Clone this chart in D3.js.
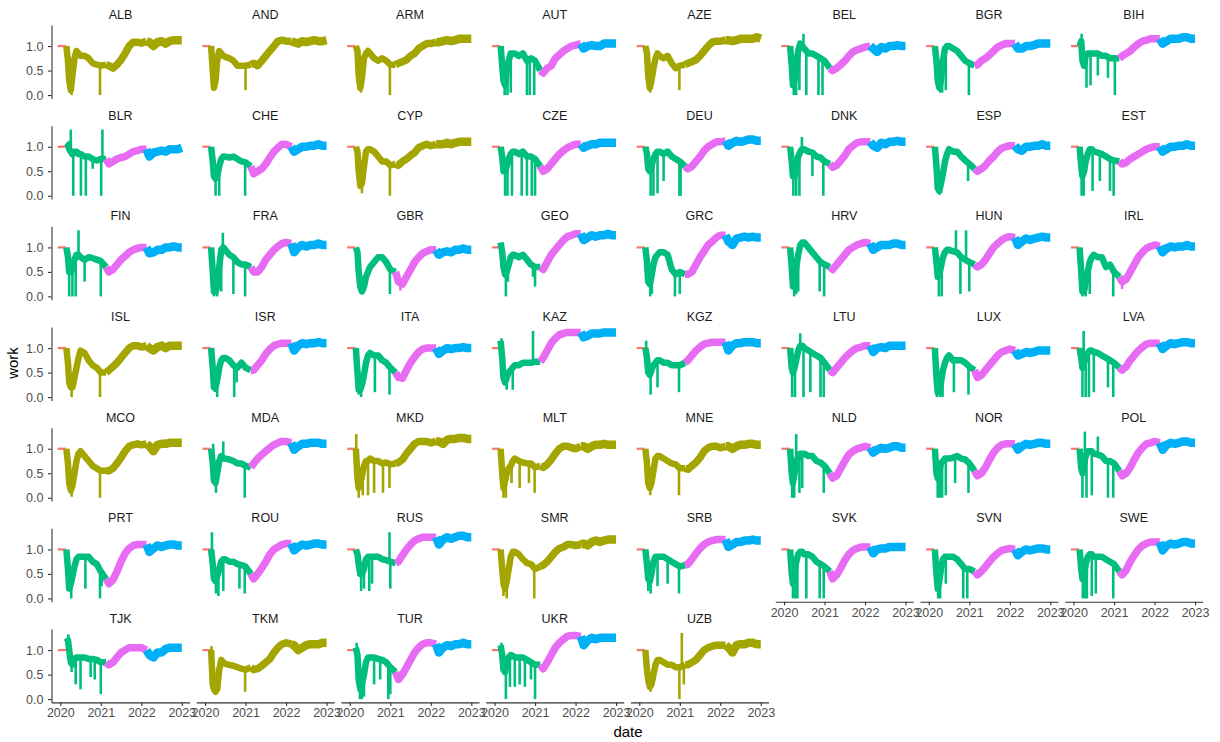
<!DOCTYPE html>
<html><head><meta charset="utf-8">
<script src="https://cdn.jsdelivr.net/npm/d3@7"></script>
<style>
body{margin:0;background:#fff}
svg{display:block}
text{font-family:"Liberation Sans",Arial,sans-serif}
</style>
</head><body>
<svg id="chart" width="1220" height="742"></svg>
<script>
const countries = ["ALB","AND","ARM","AUT","AZE","BEL","BGR","BIH",
  "BLR","CHE","CYP","CZE","DEU","DNK","ESP","EST",
  "FIN","FRA","GBR","GEO","GRC","HRV","HUN","IRL",
  "ISL","ISR","ITA","KAZ","KGZ","LTU","LUX","LVA",
  "MCO","MDA","MKD","MLT","MNE","NLD","NOR","POL",
  "PRT","ROU","RUS","SMR","SRB","SVK","SVN","SWE",
  "TJK","TKM","TUR","UKR","UZB"];
const oliveGroup = ["ALB","AND","ARM","AZE","CYP","ISL","MCO","MKD","MLT","MNE","SMR","TKM","UZB"];

// sample dates (decimal years)
const times = [2020.15,2020.19,2020.22,2020.26,2020.3,2020.35,2020.4,2020.45,2020.5,2020.6,2020.7,2020.8,2020.9,
  2021.0,2021.13,2021.2,2021.3,2021.4,2021.5,2021.6,2021.7,2021.8,2021.9,
  2022.0,2022.13,2022.2,2022.3,2022.4,2022.5,2022.6,2022.7,2022.8,2022.9,2023.0];
// pre-period baseline (same for all countries)
const preTimes = [2019.935, 2020.14];
const preValues = [1.0, 1.0];
const phaseBreaks = [2021.13, 2022.13];
const xTicks = [2020, 2021, 2022, 2023];
const yTicks = [0, 0.5, 1.0];

// work index per country (same order as countries)
const work = [
 [1.0,0.7,0.3,0.1,0.4,0.75,0.9,0.85,0.8,0.8,0.75,0.65,0.62, 0.6,0.62,0.6,0.55,0.62,0.72,0.85,1.0,1.08,1.08, 1.06,1.1,1.08,1.0,1.08,1.1,1.05,1.1,1.12,1.12,1.12], // ALB
 [1.0,0.5,0.15,0.3,0.7,0.9,0.85,0.8,0.78,0.75,0.7,0.6,0.6, 0.6,0.62,0.65,0.6,0.7,0.8,0.9,1.0,1.1,1.12, 1.1,1.1,1.08,1.05,1.1,1.08,1.1,1.12,1.1,1.1,1.12], // AND
 [1.0,0.9,0.4,0.15,0.35,0.75,0.85,0.9,0.85,0.75,0.7,0.75,0.7, 0.62,0.62,0.65,0.68,0.72,0.8,0.85,0.95,1.0,1.05, 1.05,1.08,1.08,1.1,1.12,1.1,1.12,1.15,1.15,1.15,1.15], // ARM
 [1.0,0.6,0.3,0.2,0.5,0.7,0.85,0.85,0.85,0.8,0.85,0.7,0.75, 0.7,0.5,0.45,0.55,0.6,0.75,0.82,0.9,0.95,1.0, 1.02,1.05,0.95,1.0,1.02,1.0,1.0,1.05,1.05,1.05,1.05], // AUT
 [1.0,0.85,0.4,0.15,0.3,0.55,0.75,0.85,0.8,0.75,0.8,0.65,0.55, 0.6,0.62,0.65,0.68,0.72,0.8,0.9,1.0,1.08,1.1, 1.1,1.12,1.12,1.1,1.12,1.15,1.15,1.15,1.15,1.18,1.15], // AZE
 [1.0,0.6,0.2,0.3,0.6,0.9,1.05,1.0,0.95,0.85,0.85,0.8,0.75, 0.7,0.55,0.5,0.55,0.62,0.7,0.8,0.88,0.92,0.95, 0.98,1.0,0.95,0.88,0.98,0.95,1.0,1.0,1.02,1.0,1.0], // BEL
 [1.0,0.7,0.3,0.15,0.3,0.7,0.95,1.0,1.0,0.95,0.9,0.8,0.7, 0.65,0.6,0.62,0.7,0.75,0.82,0.9,0.98,1.02,1.05, 1.05,1.05,0.95,0.95,1.0,1.0,1.02,1.05,1.05,1.05,1.05], // BGR
 [1.0,1.1,0.7,0.6,0.8,0.85,0.85,0.85,0.85,0.85,0.8,0.8,0.75, 0.75,0.75,0.8,0.85,0.9,0.98,1.05,1.1,1.12,1.15, 1.15,1.15,1.05,1.1,1.15,1.15,1.15,1.18,1.18,1.15,1.15], // BIH
 [1.08,1.05,0.95,0.9,0.85,0.9,0.9,0.85,0.85,0.8,0.8,0.75,0.72, 0.75,0.75,0.65,0.7,0.75,0.78,0.8,0.85,0.9,0.92, 0.95,0.95,0.8,0.88,0.9,0.92,0.9,0.95,0.95,0.95,0.98], // BLR
 [1.0,0.7,0.4,0.35,0.4,0.6,0.75,0.8,0.8,0.78,0.8,0.75,0.7, 0.68,0.6,0.45,0.5,0.55,0.65,0.78,0.9,0.98,1.05, 1.05,1.0,0.9,0.95,1.0,1.0,1.02,1.02,1.05,1.02,1.02], // CHE
 [1.0,0.9,0.5,0.2,0.25,0.6,0.9,0.95,0.95,0.9,0.8,0.7,0.7, 0.62,0.65,0.62,0.7,0.75,0.82,0.88,0.98,1.02,1.05, 1.02,1.05,1.05,1.05,1.08,1.05,1.08,1.1,1.1,1.1,1.1], // CYP
 [1.0,0.8,0.5,0.5,0.6,0.75,0.85,0.9,0.9,0.85,0.9,0.8,0.8, 0.75,0.6,0.5,0.55,0.65,0.75,0.85,0.92,0.98,1.02, 1.05,1.05,0.98,1.02,1.05,1.05,1.08,1.08,1.08,1.08,1.08], // CZE
 [1.0,0.85,0.55,0.5,0.6,0.75,0.85,0.9,0.9,0.85,0.9,0.8,0.75, 0.7,0.6,0.55,0.6,0.7,0.8,0.92,1.0,1.05,1.1, 1.1,1.12,1.02,1.08,1.12,1.1,1.12,1.15,1.15,1.12,1.12], // DEU
 [1.0,0.7,0.4,0.4,0.6,0.8,0.9,0.95,0.95,0.9,0.88,0.8,0.78, 0.7,0.65,0.58,0.62,0.72,0.82,0.95,1.02,1.08,1.1, 1.1,1.1,1.02,0.98,1.08,1.05,1.1,1.1,1.12,1.1,1.1], // DNK
 [1.0,0.6,0.15,0.1,0.25,0.45,0.7,0.85,0.95,0.9,0.9,0.8,0.72, 0.65,0.55,0.5,0.55,0.62,0.72,0.8,0.9,0.97,1.0, 1.02,1.02,0.95,0.92,1.0,1.0,1.02,1.02,1.05,1.02,1.02], // ESP
 [1.0,0.6,0.4,0.5,0.7,0.85,0.95,0.95,0.9,0.88,0.85,0.8,0.75, 0.72,0.7,0.65,0.68,0.75,0.8,0.85,0.9,0.95,0.98, 1.0,1.0,0.9,0.95,1.0,1.0,1.02,1.02,1.05,1.02,1.02], // EST
 [1.0,0.8,0.5,0.5,0.6,0.75,0.85,0.85,0.8,0.75,0.8,0.78,0.75, 0.72,0.6,0.5,0.55,0.65,0.75,0.82,0.9,0.95,0.98, 1.0,1.0,0.88,0.9,0.95,0.95,1.0,1.0,1.02,1.0,1.0], // FIN
 [1.0,0.5,0.1,0.1,0.2,0.6,0.95,1.0,0.95,0.85,0.8,0.7,0.65, 0.65,0.6,0.5,0.5,0.6,0.75,0.85,0.95,1.02,1.08, 1.1,1.08,0.9,1.0,1.05,1.02,1.05,1.05,1.08,1.05,1.05], // FRA
 [1.0,0.9,0.5,0.2,0.1,0.2,0.4,0.5,0.6,0.7,0.8,0.8,0.7, 0.55,0.5,0.3,0.25,0.4,0.55,0.7,0.8,0.88,0.92, 0.95,0.95,0.85,0.9,0.92,0.9,0.95,0.95,0.98,0.95,0.95], // GBR
 [1.1,0.9,0.6,0.45,0.5,0.65,0.8,0.85,0.85,0.8,0.85,0.75,0.65, 0.6,0.6,0.55,0.7,0.85,0.95,1.05,1.15,1.22,1.25, 1.28,1.28,1.15,1.2,1.25,1.22,1.25,1.25,1.28,1.25,1.25], // GEO
 [1.0,0.7,0.3,0.25,0.4,0.65,0.8,0.85,0.9,0.9,0.85,0.55,0.45, 0.5,0.45,0.45,0.5,0.65,0.8,0.92,1.05,1.12,1.2, 1.25,1.25,1.12,1.05,1.18,1.2,1.22,1.2,1.22,1.2,1.2], // GRC
 [1.0,0.6,0.2,0.35,0.6,0.85,1.05,1.1,1.1,1.0,0.9,0.8,0.7, 0.65,0.6,0.55,0.65,0.75,0.85,0.95,1.0,1.05,1.08, 1.1,1.08,0.95,1.0,1.05,1.05,1.05,1.08,1.08,1.05,1.05], // HRV
 [1.0,0.7,0.4,0.45,0.6,0.8,0.9,0.95,0.95,0.92,0.9,0.8,0.75, 0.7,0.65,0.6,0.65,0.75,0.88,1.0,1.08,1.15,1.2, 1.22,1.2,1.05,1.12,1.18,1.15,1.18,1.2,1.22,1.2,1.2], // HUN
 [1.0,0.5,0.1,0.1,0.3,0.5,0.7,0.8,0.85,0.8,0.8,0.6,0.65, 0.5,0.4,0.3,0.35,0.5,0.65,0.8,0.9,0.98,1.02, 1.05,1.02,0.9,0.98,1.02,1.0,1.02,1.02,1.05,1.02,1.02], // IRL
 [1.0,0.7,0.3,0.2,0.2,0.4,0.6,0.8,0.95,0.9,0.75,0.65,0.6, 0.5,0.5,0.55,0.62,0.7,0.8,0.9,1.0,1.05,1.05, 1.02,1.05,1.0,0.95,1.02,1.05,1.0,1.05,1.05,1.05,1.05], // ISL
 [1.0,0.6,0.2,0.2,0.35,0.6,0.75,0.8,0.8,0.75,0.65,0.6,0.7, 0.6,0.55,0.55,0.65,0.75,0.88,0.98,1.05,1.08,1.1, 1.1,1.1,0.95,1.05,1.1,1.08,1.1,1.1,1.12,1.1,1.1], // ISR
 [1.0,0.5,0.15,0.15,0.25,0.45,0.7,0.85,0.9,0.85,0.85,0.75,0.7, 0.6,0.5,0.4,0.38,0.55,0.7,0.82,0.92,0.98,1.0, 1.0,1.0,0.88,0.95,1.0,0.98,1.0,1.0,1.02,1.0,1.0], // ITA
 [1.15,0.8,0.4,0.3,0.4,0.5,0.55,0.6,0.65,0.65,0.7,0.7,0.7, 0.72,0.72,0.8,0.95,1.1,1.2,1.27,1.3,1.32,1.32, 1.32,1.32,1.22,1.25,1.3,1.3,1.3,1.32,1.32,1.32,1.32], // KAZ
 [1.0,0.8,0.5,0.45,0.55,0.65,0.7,0.75,0.75,0.7,0.7,0.65,0.65, 0.65,0.7,0.75,0.85,0.95,1.02,1.08,1.1,1.12,1.12, 1.12,1.12,0.95,1.05,1.1,1.1,1.12,1.12,1.12,1.1,1.1], // KGZ
 [1.0,0.6,0.5,0.6,0.75,0.95,1.05,1.05,1.0,0.95,0.9,0.85,0.8, 0.7,0.55,0.5,0.6,0.7,0.8,0.88,0.95,1.0,1.02, 1.05,1.05,0.92,1.0,1.02,1.0,1.05,1.05,1.05,1.05,1.05], // LTU
 [1.0,0.4,0.1,0.1,0.3,0.55,0.7,0.8,0.85,0.75,0.75,0.75,0.7, 0.62,0.55,0.4,0.45,0.55,0.65,0.75,0.85,0.92,0.95, 0.98,0.95,0.85,0.88,0.92,0.9,0.92,0.95,0.95,0.95,0.95], // LUX
 [1.0,0.8,0.6,0.7,0.8,0.9,0.95,0.95,0.92,0.9,0.85,0.8,0.75, 0.7,0.6,0.55,0.62,0.75,0.85,0.95,1.02,1.08,1.1, 1.1,1.1,0.98,1.05,1.1,1.08,1.1,1.12,1.12,1.1,1.1], // LVA
 [1.0,0.7,0.3,0.15,0.25,0.5,0.75,0.9,0.95,0.85,0.75,0.65,0.6, 0.55,0.55,0.55,0.6,0.7,0.82,0.95,1.05,1.08,1.1, 1.08,1.1,1.05,0.95,1.08,1.1,1.1,1.12,1.12,1.12,1.12], // MCO
 [1.0,0.7,0.35,0.3,0.5,0.75,0.85,0.8,0.8,0.78,0.75,0.7,0.7, 0.65,0.62,0.7,0.8,0.88,0.95,1.02,1.08,1.12,1.15, 1.15,1.12,0.98,1.05,1.1,1.1,1.12,1.12,1.12,1.1,1.1], // MDA
 [1.0,0.4,0.2,0.3,0.45,0.65,0.75,0.75,0.8,0.75,0.75,0.7,0.72, 0.68,0.7,0.72,0.78,0.9,1.0,1.1,1.15,1.15,1.15, 1.12,1.15,1.15,1.1,1.18,1.2,1.2,1.22,1.22,1.2,1.2], // MKD
 [1.0,0.5,0.2,0.35,0.5,0.6,0.65,0.75,0.8,0.75,0.72,0.7,0.7, 0.62,0.65,0.62,0.68,0.78,0.9,1.0,1.05,1.05,1.02, 1.0,1.05,1.05,1.0,1.05,1.08,1.08,1.1,1.08,1.08,1.08], // MLT
 [1.0,0.7,0.3,0.2,0.3,0.55,0.8,0.85,0.85,0.8,0.75,0.7,0.68, 0.6,0.6,0.58,0.65,0.72,0.82,0.95,1.02,1.05,1.05, 1.02,1.05,1.05,1.0,1.05,1.08,1.08,1.1,1.1,1.08,1.08], // MNE
 [1.0,0.5,0.3,0.5,0.7,0.85,0.9,0.9,0.9,0.85,0.85,0.75,0.72, 0.65,0.5,0.4,0.45,0.6,0.75,0.88,0.95,1.0,1.02, 1.05,1.02,0.92,0.98,1.02,1.0,1.02,1.05,1.05,1.02,1.02], // NLD
 [1.0,0.5,0.4,0.55,0.7,0.75,0.8,0.8,0.8,0.82,0.85,0.8,0.78, 0.7,0.55,0.45,0.5,0.62,0.78,0.92,1.02,1.08,1.1, 1.1,1.1,0.98,1.05,1.1,1.08,1.1,1.12,1.12,1.1,1.1], // NOR
 [1.0,0.6,0.5,0.7,0.85,0.95,0.95,0.95,0.9,0.88,0.85,0.75,0.75, 0.7,0.55,0.45,0.5,0.62,0.78,0.92,1.02,1.1,1.12, 1.15,1.12,0.98,1.08,1.12,1.1,1.12,1.15,1.15,1.12,1.12], // POL
 [1.0,0.6,0.2,0.3,0.45,0.65,0.8,0.85,0.85,0.85,0.85,0.75,0.7, 0.55,0.4,0.3,0.38,0.55,0.75,0.92,1.02,1.08,1.1, 1.1,1.1,0.95,1.02,1.08,1.05,1.08,1.1,1.1,1.08,1.08], // PRT
 [1.0,0.7,0.4,0.35,0.45,0.6,0.75,0.8,0.8,0.75,0.75,0.7,0.68, 0.65,0.5,0.4,0.5,0.62,0.75,0.9,1.0,1.05,1.1, 1.12,1.12,0.98,1.05,1.1,1.08,1.1,1.12,1.12,1.1,1.1], // ROU
 [1.0,0.9,0.7,0.5,0.5,0.6,0.8,0.85,0.85,0.85,0.85,0.8,0.78, 0.75,0.72,0.75,0.88,1.0,1.1,1.18,1.22,1.25,1.25, 1.25,1.25,1.1,1.2,1.25,1.22,1.25,1.28,1.28,1.25,1.25], // RUS
 [1.0,0.6,0.3,0.2,0.35,0.6,0.85,0.95,0.95,0.9,0.8,0.72,0.7, 0.6,0.65,0.68,0.75,0.85,0.95,1.02,1.05,1.1,1.1, 1.08,1.1,1.12,1.08,1.15,1.18,1.15,1.18,1.2,1.2,1.2], // SMR
 [1.0,0.7,0.4,0.35,0.5,0.75,0.85,0.85,0.85,0.85,0.8,0.75,0.7, 0.65,0.68,0.7,0.8,0.92,1.02,1.1,1.15,1.18,1.2, 1.2,1.2,1.05,1.1,1.15,1.15,1.18,1.18,1.2,1.18,1.18], // SRB
 [1.0,0.5,0.3,0.5,0.75,0.9,0.95,0.95,0.9,0.9,0.85,0.75,0.7, 0.65,0.55,0.4,0.48,0.62,0.78,0.9,0.98,1.02,1.05, 1.05,1.05,0.92,1.0,1.02,1.02,1.05,1.05,1.05,1.05,1.05], // SVK
 [1.0,0.5,0.2,0.35,0.6,0.8,0.85,0.85,0.85,0.85,0.8,0.7,0.6, 0.6,0.55,0.48,0.55,0.65,0.75,0.85,0.92,0.98,1.0, 1.02,1.0,0.88,0.95,1.0,0.98,1.0,1.02,1.02,1.0,1.0], // SVN
 [1.0,0.6,0.4,0.5,0.7,0.85,0.9,0.9,0.85,0.85,0.85,0.8,0.75, 0.7,0.55,0.48,0.58,0.75,0.88,1.0,1.08,1.12,1.15, 1.15,1.15,0.98,1.08,1.12,1.1,1.12,1.15,1.15,1.12,1.12], // SWE
 [1.25,1.2,1.0,0.75,0.7,0.8,0.85,0.85,0.85,0.85,0.82,0.82,0.8, 0.75,0.75,0.7,0.75,0.85,0.95,1.0,1.05,1.05,1.05, 1.05,1.0,0.9,0.85,0.95,0.95,1.02,1.05,1.05,1.05,1.05], // TJK
 [1.0,0.3,0.2,0.15,0.2,0.6,0.8,0.75,0.72,0.7,0.68,0.65,0.62, 0.6,0.65,0.6,0.62,0.68,0.75,0.82,0.95,1.05,1.12, 1.15,1.12,1.1,1.0,1.05,1.1,1.12,1.12,1.12,1.15,1.15], // TKM
 [1.05,0.9,0.4,0.2,0.3,0.5,0.75,0.85,0.85,0.85,0.82,0.8,0.75, 0.65,0.55,0.4,0.5,0.65,0.8,0.95,1.05,1.12,1.15, 1.15,1.12,0.95,1.05,1.1,1.08,1.12,1.12,1.15,1.12,1.12], // TUR
 [1.1,0.9,0.6,0.55,0.7,0.85,0.9,0.88,0.85,0.85,0.85,0.8,0.75, 0.7,0.7,0.62,0.75,0.9,1.05,1.15,1.22,1.28,1.3, 1.3,1.28,1.1,1.2,1.25,1.22,1.25,1.25,1.25,1.25,1.25], // UKR
 [1.0,0.6,0.4,0.25,0.3,0.5,0.7,0.8,0.8,0.75,0.7,0.7,0.65, 0.65,0.7,0.7,0.75,0.8,0.9,1.0,1.05,1.08,1.1, 1.1,1.1,1.05,0.95,1.1,1.12,1.12,1.15,1.15,1.12,1.12]  // UZB
];

// single-day spikes [date, value] per country
const spikes = [
 [[2020.28,0.0],[2020.98,0.0]], // ALB
 [[2020.22,0.1],[2021.0,0.1]], // AND
 [[2020.28,0.05],[2020.99,0.0]], // ARM
 [[2020.25,0],[2020.32,0],[2020.4,0.05],[2020.8,0],[2020.87,0],[2020.98,0]], // AUT
 [[2020.27,0.05],[2020.99,0.1]], // AZE
 [[2020.24,0],[2020.3,0],[2020.38,0.1],[2020.48,1.25],[2020.55,0],[2020.85,0],[2020.95,0]], // BEL
 [[2020.28,0.05],[2020.33,0.05],[2020.42,0.1],[2020.99,0]], // BGR
 [[2020.2,1.25],[2020.32,0.15],[2020.42,0.2],[2020.6,0.4],[2020.85,0.35],[2021.02,0.0]], // BIH
 [[2020.26,1.35],[2020.32,0],[2020.51,0],[2020.63,0],[2020.8,0.55],[2021.01,0],[2021.04,1.35]], // BLR
 [[2020.26,0],[2020.35,0],[2020.99,0]], // CHE
 [[2020.3,0.05],[2020.99,0]], // CYP
 [[2020.26,0],[2020.32,0],[2020.43,0],[2020.67,0],[2020.8,0],[2020.92,0],[2021.0,0]], // CZE
 [[2020.28,0],[2020.35,0],[2020.45,0.05],[2020.6,0.3],[2020.99,0],[2021.02,0]], // DEU
 [[2020.23,0],[2020.3,0],[2020.38,0],[2020.44,1.2],[2020.7,0.4],[2020.97,0]], // DNK
 [[2020.27,0.02],[2020.3,0.05],[2020.97,0.3]], // ESP
 [[2020.2,0],[2020.25,0],[2020.47,0.1],[2020.65,0.3],[2020.9,0.1],[2020.99,0]], // EST
 [[2020.22,0],[2020.3,0],[2020.38,0],[2020.45,1.35],[2020.6,0.3],[2021.0,0]], // FIN
 [[2020.22,0],[2020.3,0],[2020.4,0.1],[2020.44,1.3],[2020.7,0.05],[2020.99,0]], // FRA
 [[2020.99,0.05],[2021.25,0.12]], // GBR
 [[2020.28,0],[2020.33,0.3],[2020.95,0.4],[2021.0,0.2]], // GEO
 [[2020.27,0],[2020.31,0.05],[2020.88,0],[2021.0,0.05]], // GRC
 [[2020.25,0],[2020.3,0.05],[2020.35,0.1],[2020.88,0.1],[2020.99,0]], // HRV
 [[2020.25,0],[2020.32,0],[2020.67,1.35],[2020.78,0.05],[2020.92,1.35],[2021.0,0.1]], // HUN
 [[2020.22,0],[2020.3,0],[2020.4,0.05],[2020.98,0],[2021.2,0.15]], // IRL
 [[2020.28,0],[2020.98,0]], // ISL
 [[2020.24,0.1],[2020.3,0],[2020.72,0],[2020.78,0.3]], // ISR
 [[2020.22,0.05],[2020.28,0.0],[2020.62,0.1],[2020.98,0.05]], // ITA
 [[2020.17,1.2],[2020.3,0.15],[2020.45,0.15],[2020.95,1.35]], // KAZ
 [[2020.17,1.15],[2020.28,0.05],[2020.45,0.2],[2020.98,0.1]], // KGZ
 [[2020.2,0],[2020.27,0],[2020.4,1.3],[2020.48,0],[2020.65,0.1],[2020.9,0],[2020.98,0]], // LTU
 [[2020.2,0],[2020.28,0],[2020.34,0],[2020.62,0.1],[2020.98,0.05]], // LUX
 [[2020.22,0],[2020.25,1.35],[2020.3,0],[2020.38,0],[2020.5,0.1],[2020.85,0.2],[2020.98,0]], // LVA
 [[2020.28,0.02],[2020.98,0.0]], // MCO
 [[2020.2,1.1],[2020.27,0.1],[2020.45,1.15],[2020.98,0]], // MDA
 [[2020.16,1.3],[2020.22,0.0],[2020.32,0.05],[2020.45,0.05],[2020.6,0.1],[2020.82,0.1],[2020.98,0.2]], // MKD
 [[2020.22,0.0],[2020.28,0.0],[2020.42,0.3],[2020.62,0.2],[2020.85,0.3],[2020.99,0.1]], // MLT
 [[2020.27,0.05],[2020.98,0.05]], // MNE
 [[2020.2,0],[2020.25,0],[2020.3,1.3],[2020.38,0.1],[2020.45,0.2],[2020.98,0.1]], // NLD
 [[2020.22,0],[2020.27,0],[2020.33,0],[2020.42,0.05],[2020.65,0.3],[2020.98,0.1]], // NOR
 [[2020.22,0],[2020.28,1.35],[2020.32,0],[2020.45,0.05],[2020.6,1.25],[2020.85,0],[2020.98,0]], // POL
 [[2020.22,0.15],[2020.27,0.0],[2020.62,0.2],[2020.98,0],[2021.02,0.25]], // PRT
 [[2020.17,1.35],[2020.27,0.1],[2020.33,0.05],[2020.45,0.15],[2020.85,0.2],[2020.98,0.1]], // ROU
 [[2020.28,0.15],[2020.35,0.2],[2020.48,0.15],[2020.55,0.3],[2020.98,1.35],[2021.0,0.2]], // RUS
 [[2020.22,0.05],[2020.3,0.0],[2020.98,0.0]], // SMR
 [[2020.22,0.15],[2020.28,0.1],[2020.45,0.25],[2020.7,0.3],[2020.98,0.1]], // SRB
 [[2020.22,0],[2020.28,0],[2020.33,0],[2020.55,0],[2020.88,0],[2020.98,0]], // SVK
 [[2020.23,0],[2020.28,0],[2020.42,0.3],[2020.85,0],[2020.95,0]], // SVN
 [[2020.23,0],[2020.28,0],[2020.33,0],[2020.45,0.05],[2020.55,0.1],[2020.98,0]], // SWE
 [[2020.2,1.32],[2020.28,0.55],[2020.38,0.3],[2020.5,0.2],[2020.75,0.45],[2020.85,0.4],[2021.0,0.1]], // TJK
 [[2020.16,1.08],[2020.99,0.15]], // TKM
 [[2020.17,1.15],[2020.25,0],[2020.3,0],[2020.35,0.05],[2020.6,0.3],[2020.75,0.4],[2020.95,0],[2021.0,0.1]], // TUR
 [[2020.17,1.15],[2020.28,0.0],[2020.38,0.25],[2020.5,0.25],[2020.62,0.3],[2020.75,0.25],[2020.9,0.4],[2021.0,0.0]], // UKR
 [[2020.28,0.15],[2020.99,0.0],[2021.05,1.35],[2021.1,0.3]]  // UZB
];

work.forEach((a,i)=>{ if(a.length!==times.length) throw new Error("length mismatch "+countries[i]+" "+a.length); });

// ---------- layout / style ----------
const colors = {pre:"#F8766D", olive:"#A3A500", green:"#00BF7D", pink:"#E76BF3", blue:"#00B0F6"};
const phaseWidth = [6.5, 7.5, 8.5];
const nCol = 8, panelW = 138, panelH = 73.4;
const left0 = 51.5, top0 = 25, colStep = 144.75, rowStep = 100.67;
const FONT = '"Liberation Sans",Arial,sans-serif';

const svg = d3.select("#chart");
svg.append("rect").attr("width",1220).attr("height",742).attr("fill","#fff");

const x = d3.scaleLinear().domain([2019.783, 2023.19]).range([0, panelW]);
const y = d3.scaleLinear().domain([-0.068, 1.43]).range([panelH, 0]);
const line = d3.line().x(d=>x(d[0])).y(d=>y(d[1]));

function phaseOf(t){ return t < phaseBreaks[0] ? 0 : (t < phaseBreaks[1] ? 1 : 2); }
function valueAt(ci, t){
  const a = work[ci];
  if (t <= times[0]) return a[0];
  const i = d3.bisectRight(times, t);
  if (i >= times.length) return a[a.length-1];
  const t0 = times[i-1], t1 = times[i];
  return a[i-1] + (a[i]-a[i-1])*(t-t0)/(t1-t0);
}

function styleAxis(g){
  g.select(".domain").attr("stroke","#333").attr("stroke-width",1.1);
  g.selectAll(".tick line").attr("stroke","#333").attr("stroke-width",1.1);
  g.selectAll(".tick text").attr("fill","#4D4D4D").attr("font-size","12.5px").attr("font-family",FONT);
}

const n = countries.length;
countries.forEach((c, ci) => {
  const row = Math.floor(ci / nCol), col = ci % nCol;
  const px = left0 + col*colStep, py = top0 + row*rowStep;
  const g = svg.append("g").attr("transform",`translate(${px},${py})`);
  const isOlive = oliveGroup.includes(c);
  const phaseColors = isOlive ? [colors.olive, colors.olive, colors.olive] : [colors.green, colors.pink, colors.blue];

  // strip label
  svg.append("text").attr("x", px + panelW/2).attr("y", py - 6)
    .attr("text-anchor","middle").attr("font-size","12.5px").attr("fill","#1A1A1A")
    .attr("font-family",FONT).text(c);

  // pre-period
  g.append("path").datum(preTimes.map((t,i)=>[t, preValues[i]]))
    .attr("d", line).attr("fill","none").attr("stroke",colors.pre).attr("stroke-width",2.2);

  const pts = times.map((t,i)=>[t, work[ci][i]]);
  const segs = [
    pts.filter(d=>d[0] <= phaseBreaks[0]),
    pts.filter(d=>d[0] >= phaseBreaks[0] && d[0] <= phaseBreaks[1]),
    pts.filter(d=>d[0] >= phaseBreaks[1])
  ];
  segs.forEach((s, k) => {
    g.append("path").datum(s).attr("d", line).attr("fill","none")
      .attr("stroke", phaseColors[k]).attr("stroke-width", phaseWidth[k])
      .attr("stroke-linejoin","round").attr("stroke-linecap","butt");
  });
  // spikes
  spikes[ci].forEach(([t, v]) => {
    const base = valueAt(ci, t);
    g.append("path").datum([[t, base],[t, v]]).attr("d", line)
      .attr("fill","none").attr("stroke", phaseColors[phaseOf(t)])
      .attr("stroke-width", 2.6).attr("stroke-linecap","butt");
  });

  // y axis on first column
  if (col === 0) {
    const ay = g.append("g").call(d3.axisLeft(y).tickValues(yTicks).tickFormat(d3.format(".1f"))
      .tickSize(3.5).tickPadding(4.5).tickSizeOuter(0));
    styleAxis(ay);
  }
  // x axis on bottom-most panel of each column
  if (ci + nCol >= n) {
    const ax = g.append("g").attr("transform",`translate(0,${panelH})`)
      .call(d3.axisBottom(x).tickValues(xTicks).tickFormat(d3.format("d"))
      .tickSize(3.5).tickPadding(2.5).tickSizeOuter(0));
    styleAxis(ax);
  }
});

// axis titles
svg.append("text").attr("transform","translate(13,363) rotate(-90)")
  .attr("text-anchor","middle").attr("dy","0.35em").attr("font-size","15px")
  .attr("font-family",FONT).attr("fill","#000").text("work");
svg.append("text").attr("x", 628).attr("y", 737)
  .attr("text-anchor","middle").attr("font-size","15px")
  .attr("font-family",FONT).attr("fill","#000").text("date");
</script>
</body></html>
